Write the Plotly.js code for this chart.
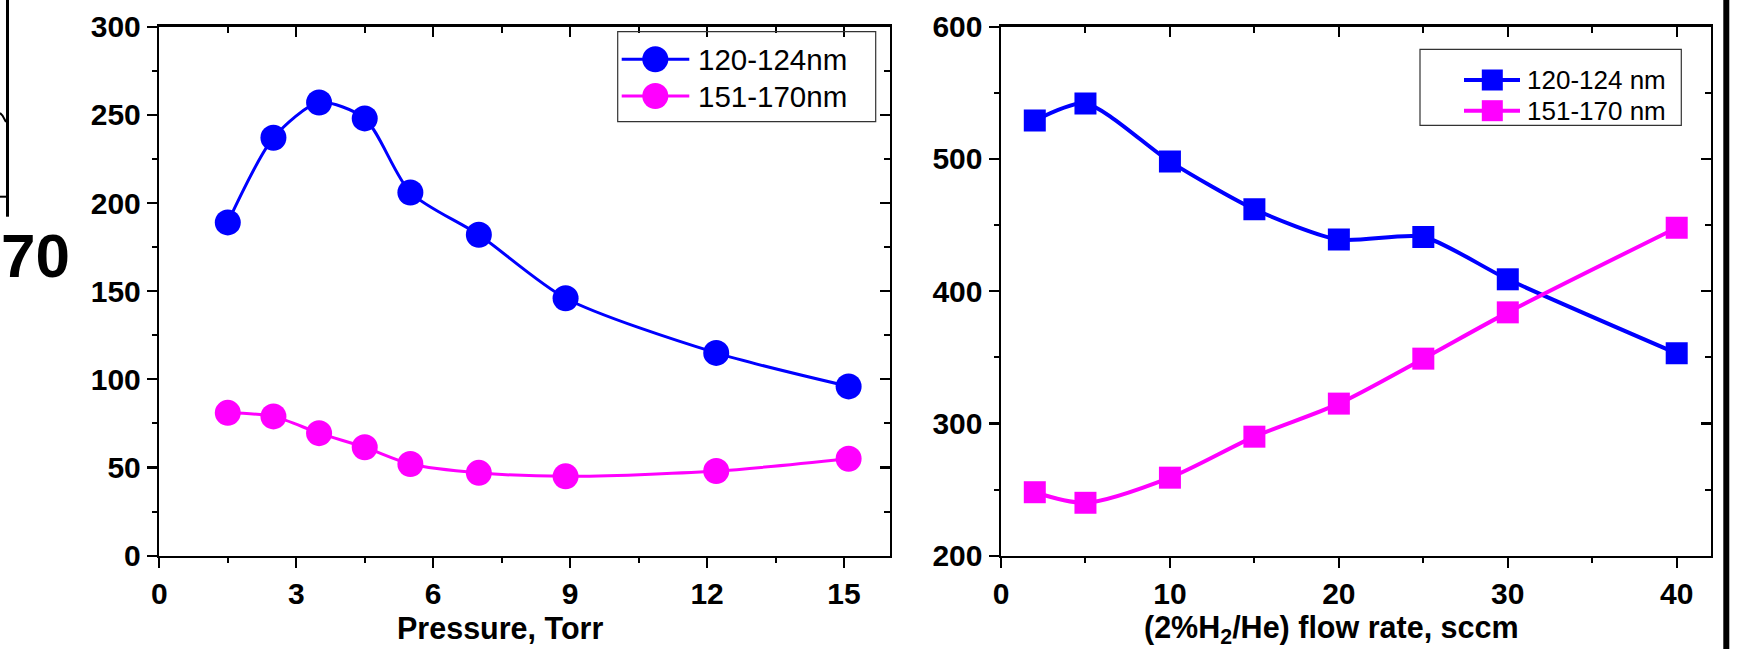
<!DOCTYPE html>
<html>
<head>
<meta charset="utf-8">
<script src="https://cdn.plot.ly/plotly-3.0.1.min.js"></script>
<style>html,body{margin:0;padding:0;background:#fff;}#chart{width:1746px;height:649px;}</style>
</head>
<body>
<div id="chart"></div>
<script>
// ---- data ----
const pressure = [1.5, 2.5, 3.5, 4.5, 5.5, 7.0, 8.9, 12.2, 15.1];
const pressure120 = [189, 237, 257, 248, 206, 182, 146, 115, 96];
const pressure151 = [81, 79, 69.5, 61.5, 52, 47, 45, 48, 55];
const flow = [2, 5, 10, 15, 20, 25, 30, 40];
const flow120 = [529, 542, 498, 462, 439, 441, 409, 353];
const flow151 = [248, 240, 259, 290, 315, 349, 384, 448];
const leftNames = ['120-124nm', '151-170nm'];
const rightNames = ['120-124 nm', '151-170 nm'];
const leftXTitle = 'Pressure, Torr';
const rightXTitle = '(2%H<sub>2</sub>/He) flow rate, sccm';
const fragmentLabel = '70';

// ---- layout helpers (pixel -> paper) ----
const W = 1746, H = 649;
const px = x => x / W;
const py = y => 1 - y / H;
const BLUE = '#0000FF', MAG = '#FF00FF';
const FONT = 'Liberation Sans, Arial, sans-serif';
const tickFont = {family: FONT, size: 30, color: '#000', weight: 'bold'};

const yDom = [py(555.7), py(26.7)];
const leftDom = [px(159.3), px(889.7)];
const rightDom = [px(1001), px(1710.5)];

function mainAxis(extra) {
  return Object.assign({
    showline: true, linecolor: '#000', linewidth: 2.5, mirror: false,
    showgrid: false, zeroline: false, ticks: 'outside', ticklen: 10, tickwidth: 2.2,
    tickcolor: '#000', tickfont: tickFont, fixedrange: true
  }, extra);
}
function mirrorAxis(extra) {
  return Object.assign({
    showline: true, linecolor: '#000', linewidth: 2.5,
    showgrid: false, zeroline: false, ticks: 'inside', ticklen: 10, tickwidth: 2.2,
    tickcolor: '#000', showticklabels: false, fixedrange: true
  }, extra);
}

const traces = [
  {x: pressure, y: pressure120, name: leftNames[0], xaxis: 'x', yaxis: 'y', mode: 'lines+markers',
   line: {color: BLUE, width: 3, shape: 'spline', smoothing: 0.75}, marker: {symbol: 'circle', size: 26, color: BLUE}},
  {x: pressure, y: pressure151, name: leftNames[1], xaxis: 'x', yaxis: 'y', mode: 'lines+markers',
   line: {color: MAG, width: 3, shape: 'spline', smoothing: 0.8}, marker: {symbol: 'circle', size: 26, color: MAG}},
  {x: flow, y: flow120, name: rightNames[0], xaxis: 'x2', yaxis: 'y2', mode: 'lines+markers',
   line: {color: BLUE, width: 4, shape: 'spline', smoothing: 0.7}, marker: {symbol: 'square', size: 22, color: BLUE}},
  {x: flow, y: flow151, name: rightNames[1], xaxis: 'x2', yaxis: 'y2', mode: 'lines+markers',
   line: {color: MAG, width: 4, shape: 'spline', smoothing: 0.8}, marker: {symbol: 'square', size: 22, color: MAG}},
  {x: [], y: [], xaxis: 'x3', yaxis: 'y3', showlegend: false, hoverinfo: 'skip'},
  {x: [], y: [], xaxis: 'x4', yaxis: 'y4', showlegend: false, hoverinfo: 'skip'}
];

const shapes = [];
const annotations = [];

// custom legends
function legendBox(x0, y0, x1, y1) {
  shapes.push({type: 'rect', xref: 'paper', yref: 'paper', x0: px(x0), x1: px(x1), y0: py(y1), y1: py(y0),
    line: {color: '#333', width: 1.2}, fillcolor: 'rgba(0,0,0,0)'});
}
function legendItem(lx0, lx1, cy, cx, color, lw, sym, sz, label, tx, fs) {
  shapes.push({type: 'line', xref: 'paper', yref: 'paper', x0: px(lx0), x1: px(lx1), y0: py(cy), y1: py(cy),
    line: {color: color, width: lw}});
  shapes.push({type: sym, xref: 'paper', yref: 'paper', x0: px(cx - sz / 2), x1: px(cx + sz / 2),
    y0: py(cy + sz / 2), y1: py(cy - sz / 2), fillcolor: color, line: {width: 0}});
  annotations.push({xref: 'paper', yref: 'paper', x: px(tx), y: py(cy), xanchor: 'left', yanchor: 'middle',
    showarrow: false, text: label, font: {family: FONT, size: fs, color: '#000'}});
}
legendBox(617.7, 31.7, 875.7, 121.7);
legendItem(621.7, 689.3, 59.3, 655.3, BLUE, 3, 'circle', 26, leftNames[0], 696, 29.5);
legendItem(621.7, 689.3, 96, 655.3, MAG, 3, 'circle', 26, leftNames[1], 696, 29.5);
legendBox(1420, 49.3, 1681.3, 125.3);
legendItem(1464, 1520, 80, 1492.3, BLUE, 4, 'rect', 21, rightNames[0], 1525, 26);
legendItem(1464, 1520, 110.7, 1492.3, MAG, 4, 'rect', 21, rightNames[1], 1525, 26);

// axis titles
annotations.push({xref: 'paper', yref: 'paper', x: px(500), y: py(628), xanchor: 'center', yanchor: 'middle',
  showarrow: false, text: leftXTitle, borderpad: 0, font: {family: FONT, size: 30.5, color: '#000', weight: 'bold'}});
annotations.push({xref: 'paper', yref: 'paper', x: px(1331), y: py(629), xanchor: 'center', yanchor: 'middle',
  showarrow: false, text: rightXTitle, borderpad: 0, font: {family: FONT, size: 30.5, color: '#000', weight: 'bold'}});

// fragments of neighbouring panels at the edges
shapes.push({type: 'line', xref: 'paper', yref: 'paper', x0: px(7.5), x1: px(7.5), y0: py(0), y1: py(216.7),
  line: {color: '#000', width: 3}});
shapes.push({type: 'line', xref: 'paper', yref: 'paper', x0: px(0), x1: px(7.5), y0: py(196.7), y1: py(196.7),
  line: {color: '#000', width: 2}});
shapes.push({type: 'path', xref: 'paper', yref: 'paper',
  path: 'M ' + px(0) + ' ' + py(113) + ' L ' + px(2.5) + ' ' + py(115.5) + ' L ' + px(6) + ' ' + py(122),
  line: {color: '#000', width: 2}});
shapes.push({type: 'rect', xref: 'paper', yref: 'paper', x0: px(1723.3), x1: px(1729.3), y0: 0, y1: 1,
  fillcolor: '#000', line: {width: 0}});
annotations.push({xref: 'paper', yref: 'paper', x: 0, y: py(255.5), xanchor: 'left', yanchor: 'middle',
  showarrow: false, text: fragmentLabel, borderpad: 0,
  font: {family: FONT, size: 62, color: '#000', weight: 'bold'}});

const layout = {
  width: W, height: H,
  margin: {l: 0, r: 0, t: 0, b: 0, pad: 0},
  paper_bgcolor: '#fff', plot_bgcolor: '#fff',
  showlegend: false, hovermode: false,
  xaxis: mainAxis({domain: leftDom, anchor: 'y', range: [0, 16], tick0: 0, dtick: 3,
    minor: {dtick: 1.5, ticks: 'outside', ticklen: 5, tickwidth: 2, tickcolor: '#000'}}),
  yaxis: mainAxis({domain: yDom, anchor: 'x', range: [0, 300], tick0: 0, dtick: 50,
    minor: {dtick: 25, ticks: 'outside', ticklen: 5, tickwidth: 2, tickcolor: '#000'}}),
  xaxis2: mainAxis({domain: rightDom, anchor: 'y2', range: [0, 42], tick0: 0, dtick: 10,
    minor: {dtick: 5, ticks: 'outside', ticklen: 5, tickwidth: 2, tickcolor: '#000'}}),
  yaxis2: mainAxis({domain: yDom, anchor: 'x2', range: [200, 600], tick0: 200, dtick: 100,
    minor: {dtick: 50, ticks: 'outside', ticklen: 5, tickwidth: 2, tickcolor: '#000'}}),
  xaxis3: mirrorAxis({overlaying: 'x', anchor: 'y3', side: 'top', range: [0, 16], tick0: 0, dtick: 3,
    minor: {dtick: 1.5, ticks: 'inside', ticklen: 6, tickwidth: 2, tickcolor: '#000'}}),
  yaxis3: mirrorAxis({overlaying: 'y', anchor: 'x3', side: 'right', range: [0, 300], tick0: 0, dtick: 50,
    minor: {dtick: 25, ticks: 'inside', ticklen: 6, tickwidth: 2, tickcolor: '#000'}}),
  xaxis4: mirrorAxis({overlaying: 'x2', anchor: 'y4', side: 'top', range: [0, 42], tick0: 0, dtick: 10,
    minor: {dtick: 5, ticks: 'inside', ticklen: 6, tickwidth: 2, tickcolor: '#000'}}),
  yaxis4: mirrorAxis({overlaying: 'y2', anchor: 'x4', side: 'right', range: [200, 600], tick0: 200, dtick: 100,
    minor: {dtick: 50, ticks: 'inside', ticklen: 6, tickwidth: 2, tickcolor: '#000'}}),
  shapes: shapes,
  annotations: annotations
};

Plotly.newPlot('chart', traces, layout, {staticPlot: true, displayModeBar: false});
</script>
</body>
</html>
